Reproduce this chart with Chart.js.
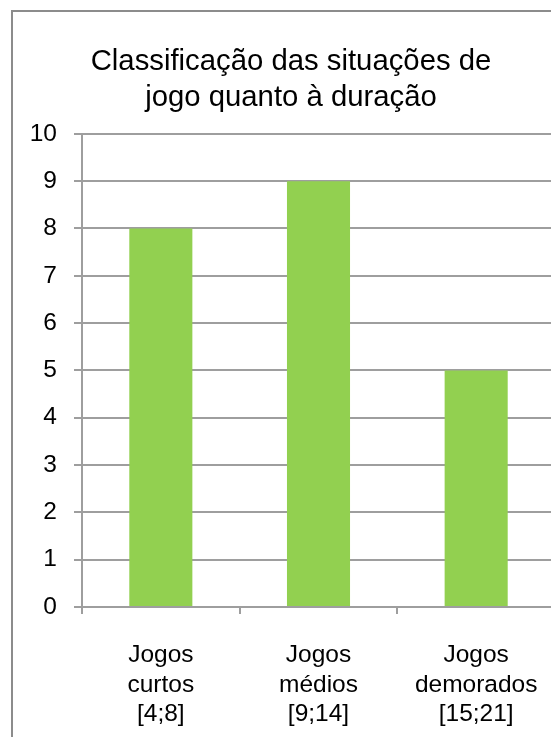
<!DOCTYPE html>
<html>
<head>
<meta charset="utf-8">
<script src="https://cdn.jsdelivr.net/npm/chart.js@4"></script>
<style>
  html, body { margin: 0; padding: 0; background: #fff; overflow: hidden; }
  #frame { position: absolute; left: 11px; top: 10px; width: 560px; height: 760px; border: 2px solid #8c8c8c; }
  #durationChart { position: absolute; left: 1px; top: 1px; }
</style>
</head>
<body>
<div id="frame"><canvas id="durationChart" width="554" height="740"></canvas></div>
<script>
// Classificação das situações de jogo quanto à duração
const categories = [
    ['Jogos', 'curtos', '[4;8]'],
    ['Jogos', 'médios', '[9;14]'],
    ['Jogos', 'demorados', '[15;21]']
];
const gameCounts = [8, 9, 5];
const yTicks = [0, 1, 2, 3, 4, 5, 6, 7, 8, 9, 10];

Chart.defaults.font.family = '"Liberation Sans", Arial, sans-serif';
Chart.defaults.color = '#000';

const durationCtx = document.getElementById('durationChart').getContext('2d');
const durationChart = new Chart(durationCtx, {
    type: 'bar',
    data: {
        labels: categories,
        datasets: [{
            label: 'Jogos',
            data: gameCounts,
            backgroundColor: '#92D050',
            barPercentage: 0.4,
            categoryPercentage: 1
        }]
    },
    options: {
        responsive: false,
        animation: false,
        devicePixelRatio: 1,
        layout: { padding: { left: 13, right: 13, top: 0, bottom: 0 } },
        plugins: {
            legend: { display: false },
            tooltip: { enabled: false },
            title: {
                display: true,
                text: ['Classificação das situações de', 'jogo quanto à duração'],
                color: '#000',
                font: { size: 29.3, weight: 'normal', lineHeight: 1.26 },
                padding: { top: 30, bottom: 17 }
            }
        },
        scales: {
            x: {
                grid: { drawOnChartArea: false, drawTicks: true, tickLength: 7, color: '#9e9e9e', lineWidth: 2 },
                border: { color: '#9e9e9e', width: 2 },
                ticks: { font: { size: 24.5, lineHeight: 1.22 }, padding: 26, maxRotation: 0, autoSkip: false },
                afterFit: (scale) => { scale.height = 146; }
            },
            y: {
                min: 0,
                max: 10,
                afterBuildTicks: (scale) => { scale.ticks = yTicks.map(v => ({ value: v })); },
                grid: { color: '#9e9e9e', lineWidth: 2, tickLength: 8 },
                border: { color: '#9e9e9e', width: 2 },
                ticks: { font: { size: 24.5 }, padding: 17 },
                afterFit: (scale) => { scale.width = 55; }
            }
        }
    }
});
</script>
</body>
</html>
